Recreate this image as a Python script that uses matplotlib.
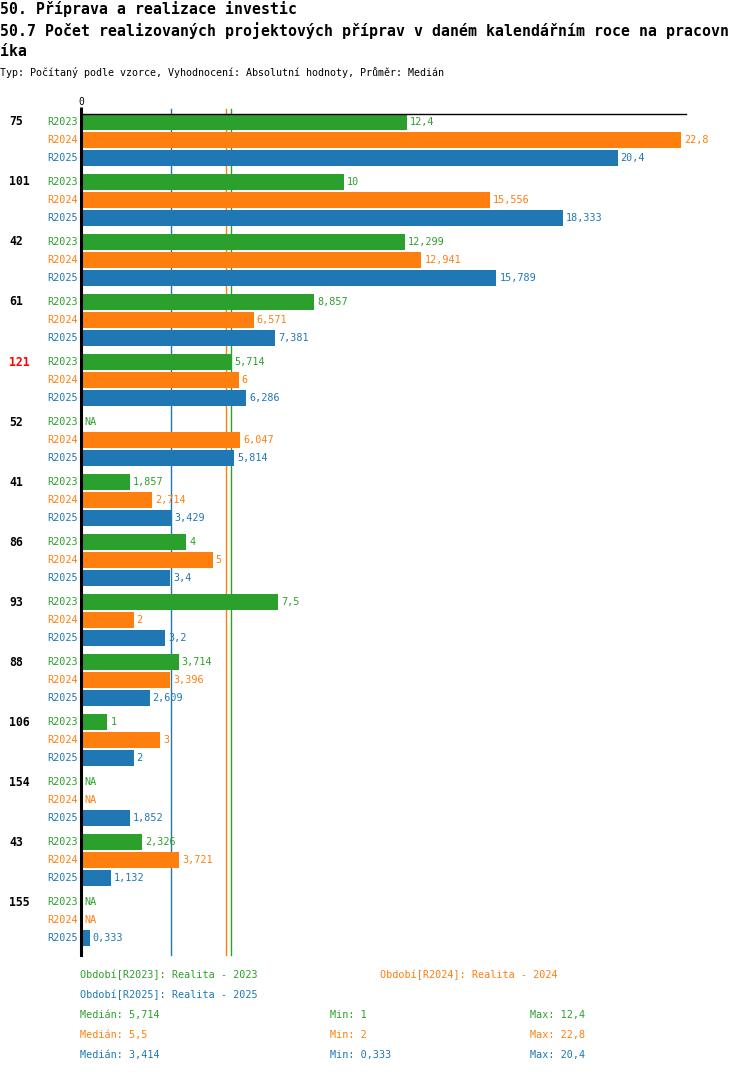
import matplotlib
matplotlib.use("Agg")
import matplotlib.pyplot as plt
from matplotlib.transforms import blended_transform_factory

# ---- data ----
groups = ['75', '101', '42', '61', '121', '52', '41', '86', '93', '88', '106', '154', '43', '155']
highlight = '121'
series_names = ['R2023', 'R2024', 'R2025']
r2023 = [12.4, 10, 12.299, 8.857, 5.714, None, 1.857, 4, 7.5, 3.714, 1, None, 2.326, None]
r2024 = [22.8, 15.556, 12.941, 6.571, 6, 6.047, 2.714, 5, 2, 3.396, 3, None, 3.721, None]
r2025 = [20.4, 18.333, 15.789, 7.381, 6.286, 5.814, 3.429, 3.4, 3.2, 2.609, 2, 1.852, 1.132, 0.333]
medians = [5.714, 5.5, 3.414]
mins = [1, 2, 0.333]
maxs = [12.4, 22.8, 20.4]
legend_texts = ['Období[R2023]: Realita - 2023', 'Období[R2024]: Realita - 2024', 'Období[R2025]: Realita - 2025']
title1 = '50. Příprava a realizace investic'
title2 = '50.7 Počet realizovaných projektových příprav v daném kalendářním roce na pracovn'
title3 = 'íka'
subtitle = 'Typ: Počítaný podle vzorce, Vyhodnocení: Absolutní hodnoty, Průměr: Medián'

colors = ['#2ca02c', '#ff7f0e', '#1f77b4']
FONT = 'DejaVu Sans Mono'
plt.rcParams['font.family'] = [FONT, 'DejaVu Sans']

W, H = 750, 1074
fig = plt.figure(figsize=(W / 100, H / 100), dpi=100)


def fx(x):
    return x / W


def fy(y):
    return 1 - y / H


ax_left, ax_right, ax_top, ax_bottom = 81, 686, 114, 955
ax = fig.add_axes([fx(ax_left), fy(ax_bottom), (ax_right - ax_left) / W, (ax_bottom - ax_top) / H])

slot = 18.0          # px per bar slot
group_px = 60.0      # px per group
first_center = 122.0

series = [r2023, r2024, r2025]


def ypos(g, k):
    return (g * group_px) / slot + k


def fmt(v):
    s = f"{v:.3f}".rstrip('0').rstrip('.')
    return s.replace('.', ',')


for k, vals in enumerate(series):
    ys = [ypos(g, k) for g in range(len(groups))]
    ws = [v if v is not None else 0 for v in vals]
    ax.barh(ys, ws, height=16 / slot, color=colors[k], zorder=2)

ax.set_xlim(0, 23)
ax.set_ylim((ax_bottom - first_center) / slot, (ax_top - first_center) / slot)

# median lines
ext = 5 / (ax_bottom - ax_top)
for k, m in enumerate(medians):
    ax.axvline(m, ymin=0, ymax=1 + ext, color=colors[k], lw=1, clip_on=False, zorder=1)

# spines
for s in ['right', 'bottom']:
    ax.spines[s].set_visible(False)
ax.spines['left'].set_linewidth(2.2)
ax.spines['left'].set_color('black')
ax.spines['top'].set_linewidth(1)
ax.spines['top'].set_color('black')
ax.set_yticks([])
ax.xaxis.tick_top()
ax.set_xticks([0])
ax.set_xticklabels(['0'])
ax.tick_params(axis='x', length=5, width=2.2, pad=0, labelsize=7)

# labels
trans_lab = blended_transform_factory(fig.transFigure, ax.transData)
for g, name in enumerate(groups):
    ax.text(fx(9), ypos(g, 0), name, transform=trans_lab, ha='left', va='center',
            fontsize=8.3, fontweight='bold', color='red' if name == highlight else 'black')
    for k, vals in enumerate(series):
        y = ypos(g, k)
        ax.text(fx(78), y, series_names[k], transform=trans_lab, ha='right', va='center',
                fontsize=7.3, color=colors[k])
        v = vals[g]
        if v is None:
            ax.annotate('NA', (0, y), xytext=(3, 0), textcoords='offset pixels',
                        ha='left', va='center', fontsize=7.3, color=colors[k])
        else:
            ax.annotate(fmt(v), (v, y), xytext=(3, 0), textcoords='offset pixels',
                        ha='left', va='center', fontsize=7.3, color=colors[k])

# titles
fig.text(0, fy(9), title1, ha='left', va='center', fontsize=10.7, fontweight='bold')
fig.text(0, fy(31), title2, ha='left', va='center', fontsize=10.7, fontweight='bold')
fig.text(0, fy(52), title3, ha='left', va='center', fontsize=10.7, fontweight='bold')
fig.text(0, fy(73), subtitle, ha='left', va='center', fontsize=7.2)

# legend
fig.text(fx(80), fy(975), legend_texts[0], ha='left', va='center', fontsize=7.3, color=colors[0])
fig.text(fx(380), fy(975), legend_texts[1], ha='left', va='center', fontsize=7.3, color=colors[1])
fig.text(fx(80), fy(995), legend_texts[2], ha='left', va='center', fontsize=7.3, color=colors[2])

for k in range(3):
    y = fy(1015 + 20 * k)
    fig.text(fx(80), y, f'Medián: {fmt(medians[k])}', ha='left', va='center', fontsize=7.3, color=colors[k])
    fig.text(fx(330), y, f'Min: {fmt(mins[k])}', ha='left', va='center', fontsize=7.3, color=colors[k])
    fig.text(fx(530), y, f'Max: {fmt(maxs[k])}', ha='left', va='center', fontsize=7.3, color=colors[k])

fig.savefig('out.png', dpi=100)
